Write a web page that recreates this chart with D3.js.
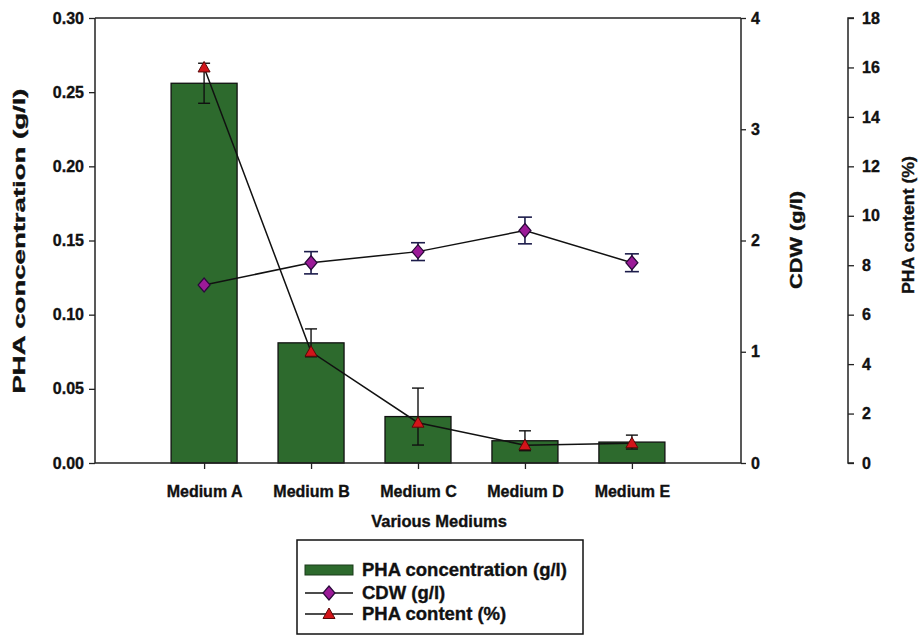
<!DOCTYPE html>
<html>
<head>
<meta charset="utf-8">
<script src="https://cdn.jsdelivr.net/npm/d3@7/dist/d3.min.js"></script>
<style>
  html, body { margin: 0; padding: 0; background: #fff; }
  svg { display: block; }
  text { font-family: "Liberation Sans", Arial, sans-serif; font-weight: bold; fill: #111; stroke: #111; stroke-width: 0.35px; }
</style>
</head>
<body>
<svg id="chart" width="924" height="637"></svg>
<script>
// Media tested
const categories = ["Medium A", "Medium B", "Medium C", "Medium D", "Medium E"];
// PHA concentration (g/l) with standard deviation
const phaConc = [0.256, 0.081, 0.0313, 0.0150, 0.0141];
const phaConcErr = [0.0135, 0.0094, 0.0192, 0.0067, 0.0047];
// Cell dry weight (g/l) with standard deviation
const cdw = [1.60, 1.80, 1.90, 2.09, 1.80];
const cdwErr = [0.0, 0.10, 0.08, 0.12, 0.08];
// PHA content (% of CDW)
const phaContent = [16.0, 4.5, 1.63, 0.72, 0.80];

const leftTicks = [0, 0.05, 0.10, 0.15, 0.20, 0.25, 0.30];
const cdwTicks = [0, 1, 2, 3, 4];
const contentTicks = [0, 2, 4, 6, 8, 10, 12, 14, 16, 18];

const svg = d3.select("#chart");
const X0 = 95, X1 = 741, Y0 = 463, Y1 = 18, X3 = 848;

const x = d3.scalePoint().domain(categories).range([X0, X1]).padding(1.02);
const yConc = d3.scaleLinear().domain([0, 0.30]).range([Y0, Y1]);
const yCdw = d3.scaleLinear().domain([0, 4]).range([Y0, Y1]);
const yContent = d3.scaleLinear().domain([0, 18]).range([Y0, Y1]);

const barW = 66;
const green = "#2d6a2d";
const purple = "#9c1a98";
const red = "#d2151a";
const axisColor = "#222";

// Bars
svg.append("g").selectAll("rect").data(categories).join("rect")
  .attr("x", d => x(d) - barW / 2)
  .attr("y", (d, i) => yConc(phaConc[i]))
  .attr("width", barW)
  .attr("height", (d, i) => Y0 - yConc(phaConc[i]))
  .attr("fill", green)
  .attr("stroke", "#111")
  .attr("stroke-width", 1.3);

// Bar error bars
const eb = svg.append("g").attr("stroke", "#111").attr("stroke-width", 1.4);
categories.forEach((c, i) => {
  const cx = x(c), hi = yConc(phaConc[i] + phaConcErr[i]), lo = yConc(phaConc[i] - phaConcErr[i]);
  eb.append("line").attr("x1", cx).attr("x2", cx).attr("y1", hi).attr("y2", lo);
  eb.append("line").attr("x1", cx - 6).attr("x2", cx + 6).attr("y1", hi).attr("y2", hi);
  eb.append("line").attr("x1", cx - 6).attr("x2", cx + 6).attr("y1", lo).attr("y2", lo);
});

// Top border of the plot frame
svg.append("line").attr("x1", X0).attr("x2", X1).attr("y1", Y1).attr("y2", Y1)
  .attr("stroke", axisColor).attr("stroke-width", 1.5);

// Left axis
const gL = svg.append("g").attr("transform", `translate(${X0},0)`)
  .call(d3.axisLeft(yConc).tickValues(leftTicks).tickFormat(d3.format(".2f")).tickSize(6).tickPadding(5));
// CDW axis
const gR = svg.append("g").attr("transform", `translate(${X1},0)`)
  .call(d3.axisRight(yCdw).tickValues(cdwTicks).tickFormat(d3.format("d")).tickSize(5).tickPadding(5));
// PHA content axis
const g3 = svg.append("g").attr("transform", `translate(${X3},0)`)
  .call(d3.axisRight(yContent).tickValues(contentTicks).tickFormat(d3.format("d")).tickSize(6).tickPadding(8));
// Bottom axis
const gB = svg.append("g").attr("transform", `translate(0,${Y0})`)
  .call(d3.axisBottom(x).tickSize(6).tickPadding(17));

[gL, gR, g3, gB].forEach(g => {
  g.select(".domain").attr("stroke", axisColor).attr("stroke-width", 1.5);
  g.selectAll(".tick line").attr("stroke", axisColor).attr("stroke-width", 1.3);
  g.selectAll("text").attr("font-size", 16).attr("fill", "#111")
    .attr("font-family", "'Liberation Sans', Arial, sans-serif").attr("font-weight", "bold");
});
gB.select(".domain").attr("d", `M${X0},0H${X1}`);
gL.select(".domain").attr("d", `M0,${Y0}V${Y1}`);
gR.select(".domain").attr("d", `M0,${Y0}V${Y1}`);
g3.select(".domain").attr("d", `M6,${Y0}H0V${Y1}H6`);

// Axis titles
svg.append("text").attr("transform", "translate(25,241) rotate(-90)")
  .attr("text-anchor", "middle").attr("font-size", 16)
  .attr("textLength", 305).attr("lengthAdjust", "spacingAndGlyphs")
  .text("PHA concentration (g/l)");
svg.append("text").attr("transform", "translate(802,240) rotate(-90)")
  .attr("text-anchor", "middle").attr("font-size", 16)
  .attr("textLength", 98).attr("lengthAdjust", "spacingAndGlyphs")
  .text("CDW (g/l)");
svg.append("text").attr("transform", "translate(914,225) rotate(-90)")
  .attr("text-anchor", "middle").attr("font-size", 17)
  .attr("textLength", 138).attr("lengthAdjust", "spacingAndGlyphs")
  .text("PHA content (%)");
svg.append("text").attr("x", 439).attr("y", 527)
  .attr("text-anchor", "middle").attr("font-size", 16.5).text("Various Mediums");

// PHA content line
svg.append("path")
  .datum(categories)
  .attr("fill", "none").attr("stroke", "#111").attr("stroke-width", 1.5)
  .attr("d", d3.line().x(d => x(d)).y((d, i) => yContent(phaContent[i])));

// CDW line
svg.append("path")
  .datum(categories)
  .attr("fill", "none").attr("stroke", "#111").attr("stroke-width", 1.5)
  .attr("d", d3.line().x(d => x(d)).y((d, i) => yCdw(cdw[i])));

// CDW error bars
const ec = svg.append("g").attr("stroke", "#1c1c4a").attr("stroke-width", 1.6);
categories.forEach((c, i) => {
  if (!cdwErr[i]) return;
  const cx = x(c), hi = yCdw(cdw[i] + cdwErr[i]), lo = yCdw(cdw[i] - cdwErr[i]);
  ec.append("line").attr("x1", cx).attr("x2", cx).attr("y1", hi).attr("y2", lo);
  ec.append("line").attr("x1", cx - 7).attr("x2", cx + 7).attr("y1", hi).attr("y2", hi);
  ec.append("line").attr("x1", cx - 7).attr("x2", cx + 7).attr("y1", lo).attr("y2", lo);
});

const diamond = "M0,-7L6,0L0,7L-6,0Z";
const triangle = "M0,-6L6,4.5L-6,4.5Z";

// CDW markers
svg.append("g").selectAll("path").data(categories).join("path")
  .attr("transform", (d, i) => `translate(${x(d)},${yCdw(cdw[i])})`)
  .attr("d", diamond).attr("fill", purple).attr("stroke", "#2a0a3a").attr("stroke-width", 1.2);

// PHA content markers
svg.append("g").selectAll("path").data(categories).join("path")
  .attr("transform", (d, i) => `translate(${x(d)},${yContent(phaContent[i])})`)
  .attr("d", triangle).attr("fill", red).attr("stroke", "#5a0808").attr("stroke-width", 1);

// Legend
const lg = svg.append("g");
lg.append("rect").attr("x", 297).attr("y", 540).attr("width", 286).attr("height", 94)
  .attr("fill", "#fff").attr("stroke", "#111").attr("stroke-width", 1.5);
const legendItems = ["PHA concentration (g/l)", "CDW (g/l)", "PHA content (%)"];
const rowY = [570, 593, 614];
lg.append("rect").attr("x", 305).attr("y", rowY[0] - 5).attr("width", 48).attr("height", 10)
  .attr("fill", green).attr("stroke", "#1a3a1a").attr("stroke-width", 1);
[1, 2].forEach(k => {
  lg.append("line").attr("x1", 305).attr("x2", 353).attr("y1", rowY[k]).attr("y2", rowY[k])
    .attr("stroke", "#111").attr("stroke-width", 1.5);
});
lg.append("path").attr("transform", `translate(329,${rowY[1]})`).attr("d", diamond)
  .attr("fill", purple).attr("stroke", "#2a0a3a").attr("stroke-width", 1.2);
lg.append("path").attr("transform", `translate(329,${rowY[2]})`).attr("d", triangle)
  .attr("fill", red).attr("stroke", "#5a0808").attr("stroke-width", 1);
lg.selectAll("text.item").data(legendItems).join("text").attr("class", "item")
  .attr("x", 362).attr("y", (d, i) => rowY[i] + 6).attr("font-size", 18.5).text(d => d);
</script>
</body>
</html>
